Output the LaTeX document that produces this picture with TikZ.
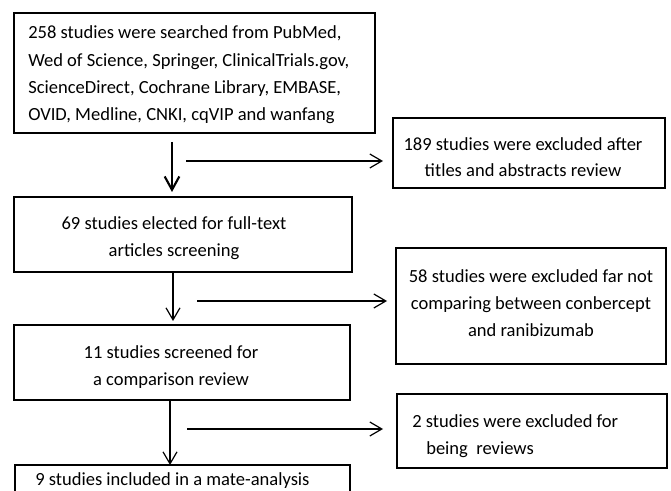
\documentclass[tikz,border=0pt]{standalone}
\usepackage{fontspec}
\setmainfont{Carlito}
\usetikzlibrary{arrows.meta}
\begin{document}
\begin{tikzpicture}[x=0.75pt,y=-0.75pt,
  boxst/.style={draw, line width=1pt, inner sep=0pt},
  txt/.style={inner sep=0pt, font=\fontsize{13.9pt}{20.5pt}\selectfont},
  thinarr/.style={line width=0.9pt, -{Straight Barb[length=9pt,width=10.5pt,line width=0.9pt]}},
  thickarr/.style={line width=1.9pt, -{Straight Barb[length=10pt,width=11pt,line width=1.6pt]}}]
\useasboundingbox (0,0) rectangle (671,491);
\clip (0,0) rectangle (671,491);
\fill[white] (0,0) rectangle (671,491);

% boxes
\node[boxst, minimum width=270.75pt, minimum height=90pt] (b1) at (194.5,73) {};
\node[boxst, minimum width=204pt, minimum height=52.5pt] (b189) at (529,153) {};
\node[boxst, minimum width=253.5pt, minimum height=56.25pt] (b2) at (183,234.5) {};
\node[boxst, minimum width=202.5pt, minimum height=87pt] (b58) at (531,306) {};
\node[boxst, minimum width=252pt, minimum height=56.25pt] (b3) at (182,362.5) {};
\node[boxst, minimum width=202.5pt, minimum height=55.5pt] (b2s) at (532,431) {};
\node[boxst, minimum width=251.25pt, minimum height=60pt] (b4) at (182.5,505) {};

% texts
\node[txt, anchor=west, align=left] (t1) at (28,75) {258 studies were searched from PubMed,\\Wed of Science, Springer, ClinicalTrials.gov,\\ScienceDirect, Cochrane Library, EMBASE,\\OVID, Medline, CNKI, cqVIP and wanfang};
\node[txt, align=center, font=\fontsize{13.9pt}{19.5pt}\selectfont] (t189) at (523,157) {189 studies were excluded after\\titles and abstracts review};
\node[txt, align=center, font=\fontsize{13.9pt}{20.25pt}\selectfont] (t2) at (174,238) {69 studies elected for full-text\\articles screening};
\node[txt, align=center, font=\fontsize{13.9pt}{20.25pt}\selectfont] (t58) at (531,303) {58 studies were excluded far not\\comparing between conbercept\\and ranibizumab};
\node[txt, align=center, font=\fontsize{13.9pt}{20.25pt}\selectfont] (t3) at (171,367.5) {11 studies screened for\\a comparison review};
\node[txt, anchor=west, align=left, font=\fontsize{13.9pt}{20.25pt}\selectfont] (t2s) at (412,436.5) {2 studies were excluded for\\\hspace*{10.5pt}being\ \ reviews};
\node[txt, anchor=west] (t4) at (35,481) {9 studies included in a mate-analysis};

% connector end points
\coordinate (a1s) at (172,142);
\coordinate (a1e) at (172,192);
\coordinate (a2s) at (173,272);
\coordinate (a2e) at (173,321);
\coordinate (a3s) at (170,400);
\coordinate (a3e) at (170,465);
\coordinate (h1s) at (186,161);
\coordinate (h1e) at (383,161);
\coordinate (h2s) at (197,301);
\coordinate (h2e) at (387,301);
\coordinate (h3s) at (187,429);
\coordinate (h3e) at (383,429);

\draw[thickarr] (a1s) -- (a1e);
\draw[thinarr] (a2s) -- (a2e);
\draw[thinarr] (a3s) -- (a3e);
\draw[thinarr] (h1s) -- (h1e);
\draw[thinarr] (h2s) -- (h2e);
\draw[thinarr] (h3s) -- (h3e);
\end{tikzpicture}
\end{document}
